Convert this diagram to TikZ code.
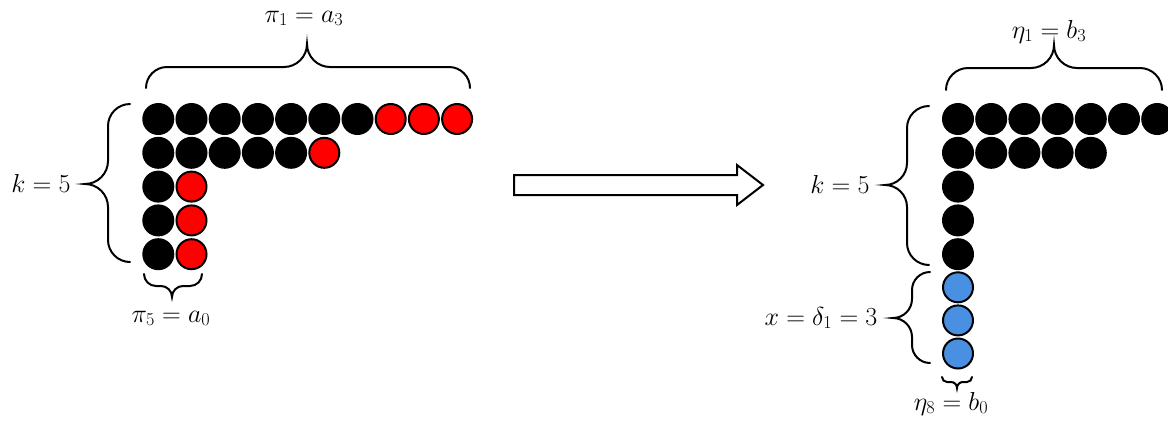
\RequirePackage{fix-cm}
\documentclass[tikz,border=0pt]{standalone}
\usepackage{amsmath}
\definecolor{beadred}{RGB}{255,0,0}
\definecolor{beadblue}{RGB}{74,144,226}
\tikzset{
  bead/.style={circle, minimum size=30pt, inner sep=0pt, line width=2pt, draw=black, fill=black},
  redbead/.style={bead, fill=beadred},
  bluebead/.style={bead, fill=beadblue},
  brace/.style={line width=2pt, line cap=round},
  lbl/.style={font=\fontsize{26}{30}\selectfont, inner sep=0pt, anchor=base, text=black},
  blockarrow/.style={line width=2pt, line join=miter},
}
% horizontal curly brace: #1 left x, #2 right x, #3 tip x, #4 end y, #5 bar y, #6 tip y
\newcommand\hbrace[6]{%
  \draw[brace] (#1,#4) .. controls (#1,{#4+0.55*(#5-#4)}) and ({#1+0.45*abs(#4-#5)},#5) .. ({#1+abs(#4-#5)},#5)
    -- ({#3-abs(#5-#6)},#5) .. controls ({#3-0.45*abs(#5-#6)},#5) and (#3,{#6+0.55*(#5-#6)}) .. (#3,#6)
    .. controls (#3,{#6+0.55*(#5-#6)}) and ({#3+0.45*abs(#5-#6)},#5) .. ({#3+abs(#5-#6)},#5)
    -- ({#2-abs(#4-#5)},#5) .. controls ({#2-0.45*abs(#4-#5)},#5) and (#2,{#4+0.55*(#5-#4)}) .. (#2,#4);}
% vertical curly brace: #1 top y, #2 bottom y, #3 tip y, #4 end x, #5 bar x, #6 tip x
\newcommand\vbrace[6]{%
  \draw[brace] (#4,#1) .. controls ({#4+0.55*(#5-#4)},#1) and (#5,{#1+0.45*abs(#4-#5)}) .. (#5,{#1+abs(#4-#5)})
    -- (#5,{#3-abs(#5-#6)}) .. controls (#5,{#3-0.45*abs(#5-#6)}) and ({#6+0.55*(#5-#6)},#3) .. (#6,#3)
    .. controls ({#6+0.55*(#5-#6)},#3) and (#5,{#3+0.45*abs(#5-#6)}) .. (#5,{#3+abs(#5-#6)})
    -- (#5,{#2-abs(#4-#5)}) .. controls (#5,{#2-0.45*abs(#4-#5)}) and ({#4+0.55*(#5-#4)},#2) .. (#4,#2);}
\begin{document}
\begin{tikzpicture}[x=1pt,y=-1pt]
\useasboundingbox (0,0) rectangle (1168,421);

% ---- left configuration ----
\foreach \c in {0,...,6} \node[bead] (L1-\c) at ({158.3+33.2*\c},119) {};
\foreach \c in {7,8,9} \node[redbead] (L1-\c) at ({158.3+33.2*\c},119) {};
\foreach \c in {0,...,4} \node[bead] (L2-\c) at ({158.3+33.2*\c},152.8) {};
\node[redbead] (L2-5) at ({158.3+33.2*5},152.8) {};
\foreach \r in {3,4,5} {
  \node[bead] (L\r-0) at (158.3,{119+33.8*(\r-1)}) {};
  \node[redbead] (L\r-1) at (191.5,{119+33.8*(\r-1)}) {};
}

\hbrace{146}{470}{307}{88}{67}{44}
\vbrace{104}{262}{184}{130}{108}{85}
\hbrace{144}{202}{172}{274}{286}{297}

\node[lbl] (piOne) at (304,22) {$\pi_1 = a_3$};
\node[lbl] (kLeft) at (41,192) {$k = 5$};
\node[lbl] (piFive) at (171,322) {$\pi_5 = a_0$};

% ---- block arrow ----
\draw[blockarrow] (514,175) -- (737,175) -- (737,165) -- (763,185) -- (737,205) -- (737,195) -- (514,195) -- cycle;

% ---- right configuration ----
\foreach \c in {0,...,6} \node[bead] (R1-\c) at ({958+33.2*\c},119) {};
\foreach \c in {0,...,4} \node[bead] (R2-\c) at ({958+33.2*\c},152.8) {};
\foreach \r in {3,4,5} \node[bead] (R\r-0) at (958,{119+33.8*(\r-1)}) {};
\foreach \r in {6,7,8} \node[bluebead] (R\r-0) at (958,{254.2+33.1*(\r-5)}) {};

\hbrace{946}{1162}{1054}{90}{68}{45}
\vbrace{106}{265}{185}{929}{907}{885}
\vbrace{272}{363}{318}{930}{912}{893}
\hbrace{942}{972}{957}{377}{382}{388}

\node[lbl] (etaOne) at (1049,38) {$\eta_1 = b_3$};
\node[lbl] (kRight) at (840,193) {$k = 5$};
\node[lbl] (xDelta) at (821,325) {$x = \delta_1 = 3$};
\node[lbl] (etaEight) at (951,410) {$\eta_8 = b_0$};
\end{tikzpicture}
\end{document}
